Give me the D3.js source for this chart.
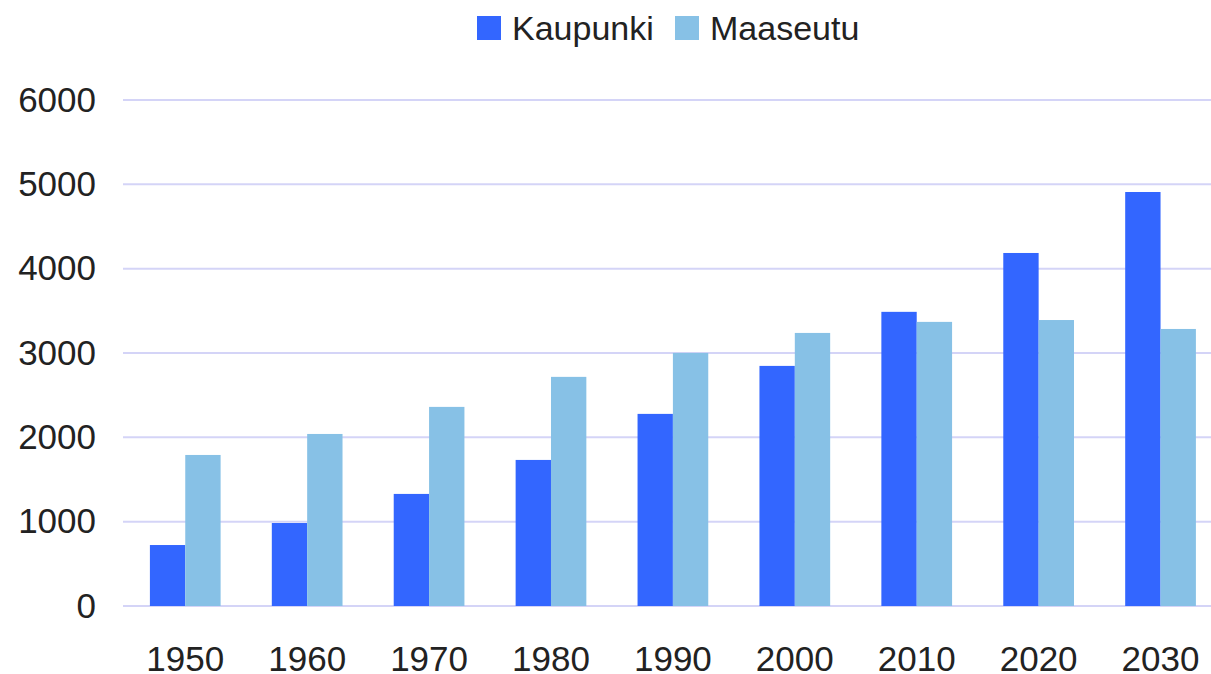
<!DOCTYPE html>
<html>
<head>
<meta charset="utf-8">
<script src="https://cdn.jsdelivr.net/npm/d3@7"></script>
<style>
  body { margin: 0; background: #fff; }
  svg { display: block; }
</style>
</head>
<body>
<div id="chart"></div>
<script>
// data
var years = ["1950", "1960", "1970", "1980", "1990", "2000", "2010", "2020", "2030"]
var seriesNames = ["Kaupunki", "Maaseutu"]
var kaupunki = [723, 984, 1329, 1732, 2278, 2847, 3488, 4186, 4909]
var maaseutu = [1791, 2040, 2361, 2717, 3001, 3238, 3369, 3391, 3285]
var yTicks = [0, 1000, 2000, 3000, 4000, 5000, 6000]
var colors = ["#3366ff", "#87c1e6"]

var width = 1211, height = 674
var font = "Liberation Sans, Arial, sans-serif"

var svg = d3.select("#chart").append("svg")
  .attr("width", width).attr("height", height)

var x = d3.scaleBand().domain(years).range([124.3, 1221.5]).paddingInner(0.42).paddingOuter(0.21)
var xs = d3.scaleBand().domain(seriesNames).range([0, x.bandwidth()])
var y = d3.scaleLinear().domain([0, 6000]).range([606, 100])

// gridlines
svg.append("g").selectAll("line").data(yTicks).enter().append("line")
  .attr("x1", 123).attr("x2", width)
  .attr("y1", function(d){ return y(d) }).attr("y2", function(d){ return y(d) })
  .attr("stroke", "#d4d4f7").attr("stroke-width", 2)

// y labels
var yAxis = svg.append("g").attr("transform", "translate(96,0)")
  .call(d3.axisLeft(y).tickValues(yTicks).tickSize(0).tickPadding(0).tickFormat(d3.format("d")))
yAxis.select(".domain").remove()
yAxis.selectAll("text")
  .style("font-family", font).style("font-size", "35px").style("fill", "#222")

// x labels
var xAxis = svg.append("g").attr("transform", "translate(0,606)")
  .call(d3.axisBottom(x).tickSize(0).tickPadding(0))
xAxis.select(".domain").remove()
xAxis.selectAll("text")
  .attr("y", 65).attr("dy", null)
  .style("font-family", font).style("font-size", "35px").style("fill", "#222")

// bars
var rows = years.map(function(yr, i){
  return { year: yr, values: [kaupunki[i], maaseutu[i]] }
})
var groups = svg.append("g").selectAll("g").data(rows).enter().append("g")
  .attr("transform", function(d){ return "translate(" + x(d.year) + ",0)" })
groups.selectAll("rect").data(function(d){
    return d.values.map(function(v, j){ return { name: seriesNames[j], value: v, j: j } })
  }).enter().append("rect")
  .attr("x", function(d){ return xs(d.name) })
  .attr("width", xs.bandwidth())
  .attr("y", function(d){ return y(d.value) })
  .attr("height", function(d){ return y(0) - y(d.value) })
  .attr("fill", function(d){ return colors[d.j] })

// legend
var legendX = [477, 675]
var legend = svg.append("g").selectAll("g").data(seriesNames).enter().append("g")
  .attr("transform", function(d, i){ return "translate(" + legendX[i] + ",16)" })
legend.append("rect").attr("width", 24).attr("height", 24)
  .attr("fill", function(d, i){ return colors[i] })
legend.append("text").attr("x", 35).attr("y", 23.5)
  .text(function(d){ return d })
  .style("font-family", font).style("font-size", "34px").style("fill", "#222")
</script>
</body>
</html>
